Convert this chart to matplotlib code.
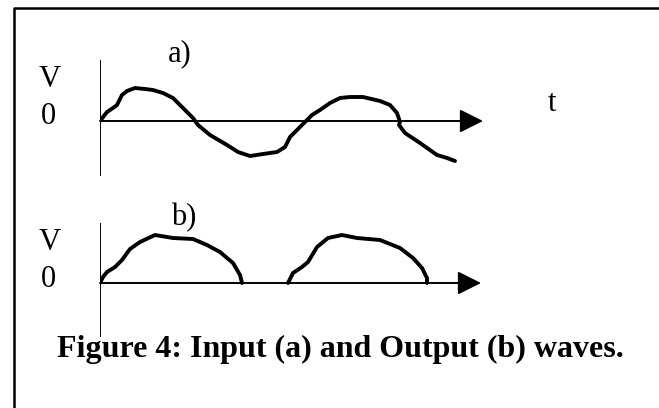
import numpy as np
import matplotlib
matplotlib.use('Agg')
import matplotlib.pyplot as plt

plt.rcParams['font.family'] = ['Liberation Serif', 'DejaVu Serif']

# input wave (a): time vs voltage
t_in = [0, 0.7, 1.3, 1.7, 2.2, 2.7, 3.5, 4.5, 5.3, 6.3, 7.3, 8.3, 9.3, 9.8,
        11.0, 12.7, 13.8, 15.0, 16.3, 17.7, 18.5, 19.0, 20.2, 21.2, 22.0,
        23.0, 24.0, 25.0, 26.3, 28.0, 29.0, 29.7, 30.0, 29.9, 30.5, 32.0,
        33.7, 34.7, 35.5]
v_in = [0, 0.9, 1.3, 1.6, 2.6, 3.0, 3.3, 3.2, 3.1, 2.8, 2.3, 1.3, 0.3, -0.4,
        -1.4, -2.4, -3.1, -3.5, -3.3, -3.1, -2.6, -1.6, -0.4, 0.6, 1.1,
        1.8, 2.3, 2.4, 2.4, 2.0, 1.6, 0.8, -0.1, -0.4, -1.2, -2.2,
        -3.4, -3.7, -4.0]

# output wave (b): two half-wave humps
t_out1 = [0, 0.3, 0.7, 1.5, 2.2, 3.0, 4.0, 5.5, 7.3, 9.3, 10.7, 12.0, 13.3, 14.0, 14.2]
v_out1 = [0, 0.6, 1.1, 1.6, 2.3, 3.4, 4.1, 4.8, 4.5, 4.4, 3.8, 3.1, 2.0, 0.8, 0]
t_out2 = [18.8, 19.3, 20.2, 20.8, 21.7, 22.8, 24.2, 25.7, 28.0, 30.0, 31.3, 32.2, 32.7, 32.7]
v_out2 = [0, 1.0, 1.6, 2.1, 3.6, 4.5, 4.8, 4.5, 4.3, 3.5, 2.5, 1.5, 0.5, 0]

caption = 'Figure 4: Input (a) and Output (b) waves.'

W, H = 659, 408
fig = plt.figure(figsize=(W / 100, H / 100), dpi=100)

# background axes in pixel units for frame + labels
bg = fig.add_axes([0, 0, 1, 1])
bg.set_xlim(0, W)
bg.set_ylim(H, 0)
bg.axis('off')
bg.plot([14, 14, W], [H, 8, 8], color='k', lw=1.8, solid_capstyle='projecting')


def panel(rect_px, xmax, ylo, yhi):
    x0, y0, x1, y1 = rect_px
    ax = fig.add_axes([x0 / W, (H - y1) / H, (x1 - x0) / W, (y1 - y0) / H])
    ax.set_xlim(0, xmax)
    ax.set_ylim(ylo, yhi)
    ax.axis('off')
    ax.axvline(0, color='k', lw=1.4)
    ax.annotate('', xy=(xmax, 0), xytext=(0, 0),
                arrowprops=dict(arrowstyle='-|>,head_length=1.0,head_width=0.5',
                                mutation_scale=14.4, lw=1.4, color='k',
                                shrinkA=0, shrinkB=0))
    return ax


wave_kw = dict(color='k', lw=2.8, solid_capstyle='round', solid_joinstyle='round')

ax_a = panel((100, 60, 483, 176), 38.3, -5.5, 6.1)
ax_a.plot(t_in, v_in, **wave_kw)

ax_b = panel((100, 223, 481, 337), 38.1, -5.4, 6.0)
ax_b.plot(t_out1, v_out1, **wave_kw)
ax_b.plot(t_out2, v_out2, **wave_kw)

fs = 22
bg.text(180, 61, 'a)', fontsize=fs, ha='center', va='baseline')
bg.text(50, 87, 'V', fontsize=fs, ha='center', va='baseline')
bg.text(48, 124, '0', fontsize=fs, ha='center', va='baseline')
bg.text(552, 111, 't', fontsize=fs, ha='center', va='baseline')
bg.text(184, 225, 'b)', fontsize=fs, ha='center', va='baseline')
bg.text(50, 250, 'V', fontsize=fs, ha='center', va='baseline')
bg.text(48, 287, '0', fontsize=fs, ha='center', va='baseline')
bg.text(340, 357, caption, fontsize=23, fontweight='bold', ha='center', va='baseline')

fig.savefig('out.png', dpi=100)
